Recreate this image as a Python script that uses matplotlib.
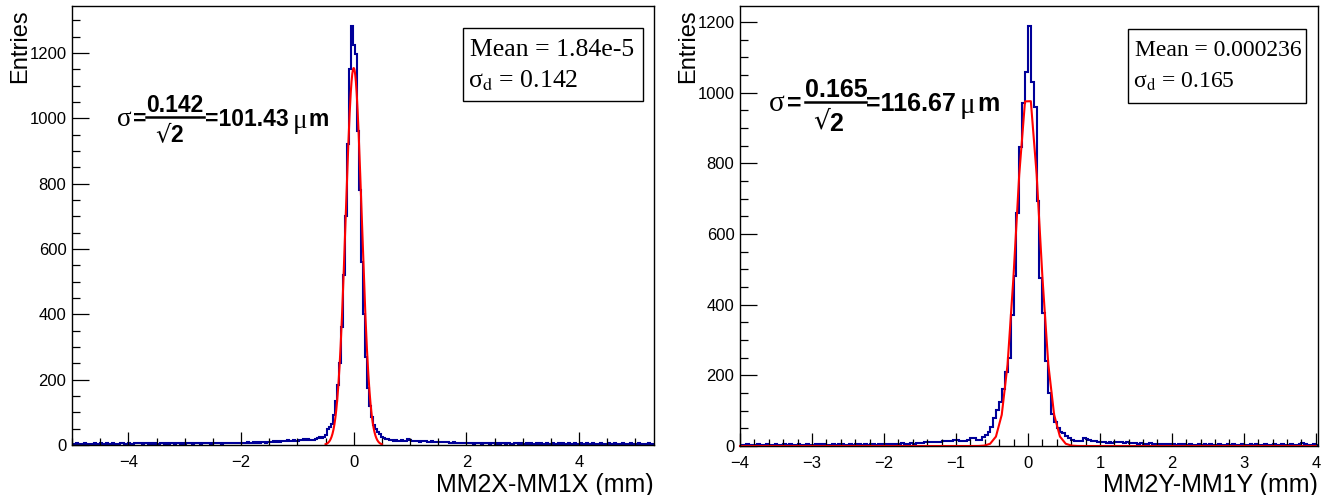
import numpy as np
import matplotlib
matplotlib.use('Agg')
import matplotlib.pyplot as plt
from matplotlib.lines import Line2D
from matplotlib.patches import Rectangle
from matplotlib.ticker import MultipleLocator

plt.rcParams['font.family'] = ['Liberation Sans', 'DejaVu Sans']
plt.rcParams['mathtext.fontset'] = 'stix'

# ---------------- data ----------------
# Left histogram: MM2X-MM1X, 290 bins on [-5, 5.33]
left_range = (-5.0, 5.33)
left_tail_far_neg = [4,3,5,4,3,4,5,3,4,4, 3,5,4,4,6,3,4,5,4,3, 5,4,4,3,5,6,4,4,5,3,
                     4,5,7,6,5,4,5,6,4,5, 4,5,3,4,6,5,4,5,4,6, 5,4,5,6,4,5,3,5,6,5,
                     4,6,5,5,4,6,5,7,5,4, 6,5,5,6,4,7,5,6,5,6, 7,5,6,6]
left_tail_mid_neg = [6,7,5,8,6,7,8,6,9,7, 8,9,7,10,9,8,11,10,12,10, 13,11,12,14,12,13,15,12]
left_tail_near_neg = [13,16,15,17,16,18,15,14,16,18,22,25,22,24]
left_core = [30,50,55,65,92,135,185,250,360,520,700,921,1152,1282,1226,1198,
             960,780,560,400,270,175,120,85,62,48,40,33,26]
left_tail_near_pos = [22,18,17,15,15, 13,14,12,13,14,12,13, 18,16,
                      12,11,13,12,10,12,11,12, 10,9,11,9,10,8,9,10,8,9,8]
left_tail_far_pos = [7,6,8,6,5,7,6,5,6,7, 5,6,4,5,6,5,4,6,5,5, 4,6,5,3,5,4,6,5,4,5,
                     3,4,5,6,4,5,3,4,5,4, 5,3,4,6,4,5,4,3,5,4, 4,5,3,4,5,4,6,3,4,5,
                     4,3,5,4,4,5,3,4,6,4, 3,5,4,4,3,5,4,3,4,5, 4,3,5,4,3,4,5,4,3,4,
                     5,4,3,4,5,3,4,4,3,5, 4,3]
left_counts = (left_tail_far_neg + left_tail_mid_neg + left_tail_near_neg + left_core
               + left_tail_near_pos + left_tail_far_pos)
left_fit = dict(amp=1154, mean=1.84e-5, sigma=0.142, lo=-0.5, hi=0.5, npts=300)

# Right histogram: MM2Y-MM1Y, 201 bins of 0.04 starting at -4
right_start, right_width = -4.0, 0.04
right_tail_far_neg = [4,3,5,4,3,4,6,4,3,5, 4,4,5,3,4,5,4,6,4,3, 5,4,4,5,3,4,5,6,4,5,
                      4,3,5,4,6,5,4,4,5,3, 5,6,4,5,4,5,6,4,5,6,
                      6,5,7,6,5,7,8,6,7,8,6,8,9,
                      9,10,12,11,12,12,10,14,13,14,14,18]
right_core = [18,14,13,14,17,22,22,17,18,26,31,41,55,78,102,125,160,210,250,370,480,
              658,847,970,1059,
              1187,1031,960,692,475,375,240,150,90,68,50,41,36,27,24,17,15,14,13,22,
              19,18,14,13,12]
right_tail_far_pos = [12,11,9,10,9,12,11,12,9,10,8,9,8,
                      7,8,6,7,8,6,7,5,6,7,6,5,
                      5,4,6,4,5,4,5,3,4,5, 4,6,4,5,3,4,5,4,4,5, 3,5,4,4,6,4,3,5,4,5,
                      4,3,5,4,4,5,3,4,5,4, 4,5,4,3,5,9,5,3,4,5, 4]
right_counts = right_tail_far_neg + right_core + right_tail_far_pos
right_fit = dict(amp=1005, mean=0.000236, sigma=0.165, lo=-4.0, hi=4.0, npts=100)

left_xlabel = "MM2X-MM1X (mm)"
right_xlabel = "MM2Y-MM1Y (mm)"
ylabel = "Entries"
left_stats = ("Mean = 1.84e-5", "σ$_{\\mathrm{d}}$ = 0.142")
right_stats = ("Mean = 0.000236", "σ$_{\\mathrm{d}}$ = 0.165")
left_note = ("0.142", "=101.43", "m")
right_note = ("0.165", "=116.67", "m")

# ---------------- figure ----------------
W, H = 1343, 495
fig = plt.figure(figsize=(W / 100, H / 100), dpi=100)
BLUE = '#000099'
RED = '#ff0000'


def fx(px):
    return px / W


def fy(py):
    return 1 - py / H


def ftext(px, py, s, **kw):
    return fig.text(fx(px), fy(py), s, **kw)


def make_axes(x0, x1, y0, y1):
    return fig.add_axes([fx(x0), fy(y1), (x1 - x0) / W, (y1 - y0) / H])


def style(ax, xmaj, xmin, ylen_maj=12.2, xlen_maj=9.4):
    ax.xaxis.set_major_locator(MultipleLocator(xmaj))
    ax.xaxis.set_minor_locator(MultipleLocator(xmin))
    ax.yaxis.set_major_locator(MultipleLocator(200))
    ax.yaxis.set_minor_locator(MultipleLocator(50))
    ax.tick_params(axis='y', which='major', direction='in', length=ylen_maj, width=0.9,
                   labelsize=12, pad=4)
    ax.tick_params(axis='y', which='minor', direction='in', length=ylen_maj / 2, width=0.9)
    ax.tick_params(axis='x', which='major', direction='in', length=xlen_maj, width=0.9,
                   labelsize=12, pad=7.5)
    ax.tick_params(axis='x', which='minor', direction='in', length=xlen_maj / 2, width=0.9)
    for sp in ax.spines.values():
        sp.set_linewidth(1.0)


def gauss_curve(p):
    x = np.linspace(p['lo'], p['hi'], p['npts'])
    y = p['amp'] * np.exp(-0.5 * ((x - p['mean']) / p['sigma']) ** 2)
    return x, y


# Left panel
ax1 = make_axes(72, 654, 6, 445)
left_edges = np.linspace(left_range[0], left_range[1], len(left_counts) + 1)
ax1.stairs(left_counts, left_edges, color=BLUE, lw=1.5, baseline=0)
gx, gy = gauss_curve(left_fit)
ax1.plot(gx, gy, color=RED, lw=1.5)
ax1.set_xlim(left_range)
ax1.set_ylim(0, 1344)
style(ax1, 2, 0.5)

# Right panel
ax2 = make_axes(740, 1318, 6, 446)
right_edges = right_start + right_width * np.arange(len(right_counts) + 1)
ax2.stairs(right_counts, right_edges, color=BLUE, lw=1.5, baseline=0)
gx, gy = gauss_curve(right_fit)
ax2.plot(gx, gy, color=RED, lw=1.5, clip_on=False)
ax2.set_xlim(-4.0, 4.03)
ax2.set_ylim(0, 1245)
style(ax2, 1, 0.2)

# axis titles
ftext(654, 485, left_xlabel, ha='right', va='center', fontsize=18)
ftext(1318, 485, right_xlabel, ha='right', va='center', fontsize=18)
ftext(20, 9, ylabel, ha='center', va='top', rotation=90, fontsize=17)
ftext(688, 9, ylabel, ha='center', va='top', rotation=90, fontsize=17)

# stat boxes
for (x0, x1, y0, y1, lines, fs) in [(463, 643, 28, 101, left_stats, 18.5),
                                     (1128, 1306, 29, 103, right_stats, 17)]:
    fig.add_artist(Rectangle((fx(x0), fy(y1)), (x1 - x0) / W, (y1 - y0) / H,
                             transform=fig.transFigure, fill=False, lw=1.0, ec='black'))
    ftext(x0 + 7, y0 + 22, lines[0], ha='left', va='center', fontsize=fs,
          family=['Liberation Serif', 'DejaVu Serif'])
    ftext(x0 + 5, y0 + 53, lines[1], ha='left', va='center', fontsize=fs,
          family=['Liberation Serif', 'DejaVu Serif'])


# sigma annotations
def note(xs, xeq, xnum_c, ynum, xbar0, xbar1, ybar, xsq, yden, xrest, xmu, xm, yline, parts, fs):
    serif = ['Liberation Serif', 'DejaVu Serif']
    ftext(xs, yline, "σ", ha='left', va='center', fontsize=fs + 3, family=serif)
    ftext(xeq, yline, "=", ha='left', va='center', fontsize=fs, weight='bold')
    ftext(xnum_c, ynum, parts[0], ha='center', va='center', fontsize=fs, weight='bold')
    fig.add_artist(Line2D([fx(xbar0), fx(xbar1)], [fy(ybar), fy(ybar)],
                          transform=fig.transFigure, color='black', lw=1.8))
    ftext(xsq + 1, yden - 1, "√", ha='right', va='center', fontsize=fs + 1,
          family=['DejaVu Sans'])
    ftext(xsq, yden + 1, "2", ha='left', va='center', fontsize=fs, weight='bold')
    ftext(xrest, yline, parts[1], ha='left', va='center', fontsize=fs, weight='bold')
    ftext(xmu, yline + 2, "μ", ha='left', va='center', fontsize=fs + 3, family=serif)
    ftext(xm, yline, parts[2], ha='left', va='center', fontsize=fs, weight='bold')


note(117, 133, 175, 106, 146, 204, 117, 170, 135, 205, 293, 309, 119, left_note, 16.5)
note(769, 787, 836, 90, 805, 866, 102, 829, 123, 866, 960, 977, 104, right_note, 18)

fig.savefig('out.png', dpi=100)
